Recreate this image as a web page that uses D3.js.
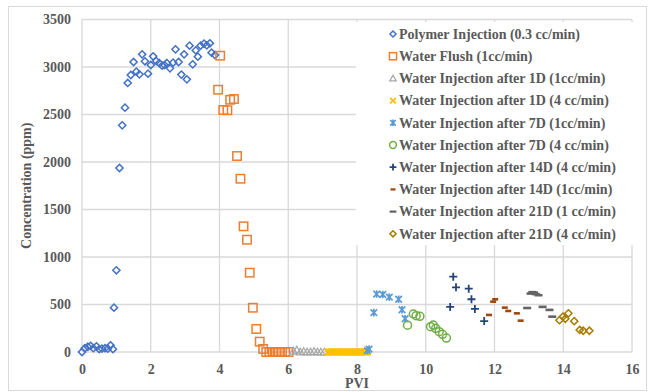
<!DOCTYPE html>
<html>
<head>
<meta charset="utf-8">
<script src="https://cdn.jsdelivr.net/npm/d3@7"></script>
<style>
  html, body { margin: 0; padding: 0; background: #fff; }
  svg { display: block; }
  text { font-family: "Liberation Serif", "Times New Roman", serif; font-weight: bold; fill: #595959; }
</style>
</head>
<body>
<svg id="chart" width="648" height="392"></svg>
<script>
// ---- data: [PVI, concentration (ppm)] ----
const polymerInjection = [
  [0, 0], [0.08, 40], [0.17, 55], [0.25, 65], [0.33, 40], [0.42, 60], [0.5, 30],
  [0.58, 35], [0.67, 40], [0.75, 35], [0.83, 70], [0.9, 30], [0.93, 467], [1.0, 860],
  [1.09, 1937], [1.17, 2386], [1.25, 2572], [1.33, 2832], [1.42, 2916], [1.5, 3053],
  [1.58, 2951], [1.67, 2923], [1.75, 3133], [1.83, 3060], [1.92, 2930], [2.0, 3021],
  [2.07, 3112], [2.16, 3063], [2.25, 3042], [2.33, 3014], [2.4, 3020], [2.47, 3042],
  [2.56, 2986], [2.65, 3046], [2.72, 3186], [2.81, 3053], [2.89, 2920], [2.97, 3133],
  [3.05, 2870], [3.13, 3225], [3.22, 3028], [3.31, 3175], [3.37, 3109], [3.45, 3225],
  [3.55, 3246], [3.63, 3228], [3.72, 3249], [3.77, 3151], [3.87, 3126]
];
const waterFlush = [
  [3.96, 2761], [4.02, 3119], [4.11, 2547], [4.23, 2545], [4.31, 2655], [4.42, 2663],
  [4.51, 2063], [4.61, 1824], [4.7, 1323], [4.8, 1182], [4.88, 835], [4.97, 466],
  [5.07, 242], [5.17, 109], [5.27, 32], [5.36, 0], [5.45, 0], [5.55, 0], [5.64, 0],
  [5.73, 0], [5.82, 0], [5.91, 0], [6.01, 0]
];
const water1D1cc = [
  [6.15, 10], [6.25, 20], [6.35, 0], [6.45, 5], [6.55, 0], [6.65, 0], [6.75, 5],
  [6.85, 0], [6.95, 0], [7.05, 0]
];
const water1D4cc = [
  [7.15, 0], [7.2, 0], [7.25, 0], [7.3, 0], [7.35, 0], [7.4, 0], [7.45, 0], [7.5, 0],
  [7.55, 0], [7.6, 0], [7.65, 0], [7.7, 0], [7.75, 0], [7.8, 0], [7.85, 0], [7.9, 0],
  [7.95, 0], [8.0, 0], [8.05, 0], [8.1, 0], [8.15, 0], [8.2, 0], [8.25, 0], [8.3, 0]
];
const water7D1cc = [
  [8.3, 15], [8.35, 30], [8.49, 414], [8.57, 610], [8.75, 605], [8.94, 578],
  [9.21, 555], [9.31, 445], [9.4, 350]
];
const water7D4cc = [
  [9.47, 282], [9.64, 400], [9.72, 382], [9.83, 376], [10.14, 267], [10.22, 284],
  [10.29, 249], [10.39, 214], [10.49, 186], [10.6, 147]
];
const water14D4cc = [
  [10.71, 474], [10.8, 793], [10.88, 681], [11.25, 667], [11.33, 555], [11.43, 453],
  [11.7, 326]
];
const water14D1cc = [
  [11.84, 390], [11.96, 530], [12.02, 555], [12.3, 467], [12.4, 432], [12.65, 407],
  [12.76, 330]
];
const water21D1cc = [
  [12.95, 463], [13.05, 615], [13.1, 630], [13.15, 625], [13.2, 610], [13.28, 598],
  [13.4, 475], [13.6, 443], [13.68, 372]
];
const water21D4cc = [
  [13.89, 335], [13.99, 372], [14.06, 350], [14.15, 407], [14.32, 325], [14.48, 232],
  [14.58, 224], [14.76, 224]
];

const seriesNames = [
  "Polymer Injection (0.3 cc/min)",
  "Water Flush (1cc/min)",
  "Water Injection after 1D (1cc/min)",
  "Water Injection after 1D (4 cc/min)",
  "Water Injection after 7D (1cc/min)",
  "Water Injection after 7D (4 cc/min)",
  "Water Injection after 14D (4 cc/min)",
  "Water Injection after 14D (1cc/min)",
  "Water Injection after 21D (1 cc/min)",
  "Water Injection after 21D (4 cc/min)"
];
const seriesData = [polymerInjection, waterFlush, water1D1cc, water1D4cc, water7D1cc,
  water7D4cc, water14D4cc, water14D1cc, water21D1cc, water21D4cc];
const seriesColors = ["#4472C4", "#ED7D31", "#A5A5A5", "#FFC000", "#5B9BD5",
  "#70AD47", "#264478", "#9E480E", "#636363", "#A67C00"];
const seriesMarkers = ["diamond", "square", "triangle", "x", "asterisk",
  "circle", "plus", "dash", "longdash", "diamond"];

const xTicks = [0, 2, 4, 6, 8, 10, 12, 14, 16];
const yTicks = [0, 500, 1000, 1500, 2000, 2500, 3000, 3500];

// ---- layout ----
const svg = d3.select("#chart");
const plot = { left: 82, right: 632, top: 19.5, bottom: 352 };

const x = d3.scaleLinear().domain([0, 16]).range([plot.left, plot.right]);
const y = d3.scaleLinear().domain([0, 3500]).range([plot.bottom, plot.top]);

// chart area border
svg.append("rect")
  .attr("x", 8.5).attr("y", 6.5).attr("width", 638).attr("height", 384)
  .attr("fill", "#fff").attr("stroke", "#D9D9D9").attr("stroke-width", 1);

// gridlines
const grid = svg.append("g");
grid.selectAll("line.h").data(yTicks).join("line")
  .attr("x1", plot.left).attr("x2", plot.right)
  .attr("y1", d => y(d)).attr("y2", d => y(d))
  .attr("stroke", "#D9D9D9").attr("stroke-width", 1.3);
grid.selectAll("line.v").data(xTicks).join("line")
  .attr("y1", plot.top).attr("y2", plot.bottom)
  .attr("x1", d => x(d)).attr("x2", d => x(d))
  .attr("stroke", "#D9D9D9").attr("stroke-width", 1.3);

// axes (labels only; lines are the gridlines)
const xAxis = svg.append("g")
  .attr("transform", `translate(0,${plot.bottom})`)
  .call(d3.axisBottom(x).tickValues(xTicks).tickFormat(d3.format("d")).tickSize(0).tickPadding(12));
const yAxis = svg.append("g")
  .attr("transform", `translate(${plot.left},0)`)
  .call(d3.axisLeft(y).tickValues(yTicks).tickFormat(d3.format("d")).tickSize(0).tickPadding(11));
[xAxis, yAxis].forEach(a => {
  a.select(".domain").remove();
  a.selectAll("text")
    .style("font-family", "'Liberation Serif', 'Times New Roman', serif")
    .style("font-weight", "bold").style("font-size", "14px").attr("fill", "#595959");
});

// axis titles
svg.append("text")
  .attr("x", (plot.left + plot.right) / 2).attr("y", 388)
  .attr("text-anchor", "middle").style("font-size", "14px").text("PVI");
svg.append("text")
  .attr("transform", `translate(31,${(plot.top + plot.bottom) / 2}) rotate(-90)`)
  .attr("text-anchor", "middle").style("font-size", "14px").text("Concentration (ppm)");

// ---- marker drawing ----
function drawMarker(g, type, color, s) {
  const sw = 1.5;
  switch (type) {
    case "diamond":
      g.append("path").attr("d", `M0,${-3.6*s}L${3.6*s},0L0,${3.6*s}L${-3.6*s},0Z`)
        .attr("fill", "none").attr("stroke", color).attr("stroke-width", sw);
      break;
    case "square":
      g.append("rect").attr("x", -4.2*s).attr("y", -4.2*s).attr("width", 8.4*s).attr("height", 8.4*s)
        .attr("fill", "none").attr("stroke", color).attr("stroke-width", sw);
      break;
    case "triangle":
      g.append("path").attr("d", `M0,${-3.8*s}L${3.8*s},${3*s}L${-3.8*s},${3*s}Z`)
        .attr("fill", "none").attr("stroke", color).attr("stroke-width", 1.2);
      break;
    case "x":
      g.append("path").attr("d", `M${-3.3*s},${-3.3*s}L${3.3*s},${3.3*s}M${3.3*s},${-3.3*s}L${-3.3*s},${3.3*s}`)
        .attr("stroke", color).attr("stroke-width", 1.8);
      break;
    case "asterisk":
      g.append("path").attr("d", `M${-3.3*s},${-3.3*s}L${3.3*s},${3.3*s}M${3.3*s},${-3.3*s}L${-3.3*s},${3.3*s}M0,${-3.8*s}L0,${3.8*s}`)
        .attr("stroke", color).attr("stroke-width", 1.7);
      break;
    case "circle":
      g.append("circle").attr("r", 4*s)
        .attr("fill", "none").attr("stroke", color).attr("stroke-width", sw);
      break;
    case "plus":
      g.append("path").attr("d", `M${-4*s},0L${4*s},0M0,${-4*s}L0,${4*s}`)
        .attr("stroke", color).attr("stroke-width", 1.8);
      break;
    case "dash":
      g.append("rect").attr("x", -3*s).attr("y", -1.3*s).attr("width", 6*s).attr("height", 2.6*s)
        .attr("fill", color);
      break;
    case "longdash":
      g.append("rect").attr("x", -4*s).attr("y", -1.3*s).attr("width", 8*s).attr("height", 2.6*s)
        .attr("fill", color);
      break;
  }
}

// legend (white panel over the plot)
const legend = svg.append("g");
legend.append("rect")
  .attr("x", 356).attr("y", 22).attr("width", 280).attr("height", 223).attr("fill", "#fff");
const legendTop = 34, legendStep = 22.2;
seriesNames.forEach((name, i) => {
  const row = legend.append("g").attr("transform", `translate(393,${legendTop + i * legendStep})`);
  drawMarker(row, seriesMarkers[i], seriesColors[i], 0.85);
  row.append("text").attr("x", 6).attr("y", 4.8)
    .style("font-size", "14px").text(name);
});

// data points
seriesData.forEach((data, i) => {
  const g = svg.append("g");
  data.forEach(([px, py]) => {
    const m = g.append("g").attr("transform", `translate(${x(px)},${y(py)})`);
    drawMarker(m, seriesMarkers[i], seriesColors[i], 1);
  });
});
</script>
</body>
</html>
